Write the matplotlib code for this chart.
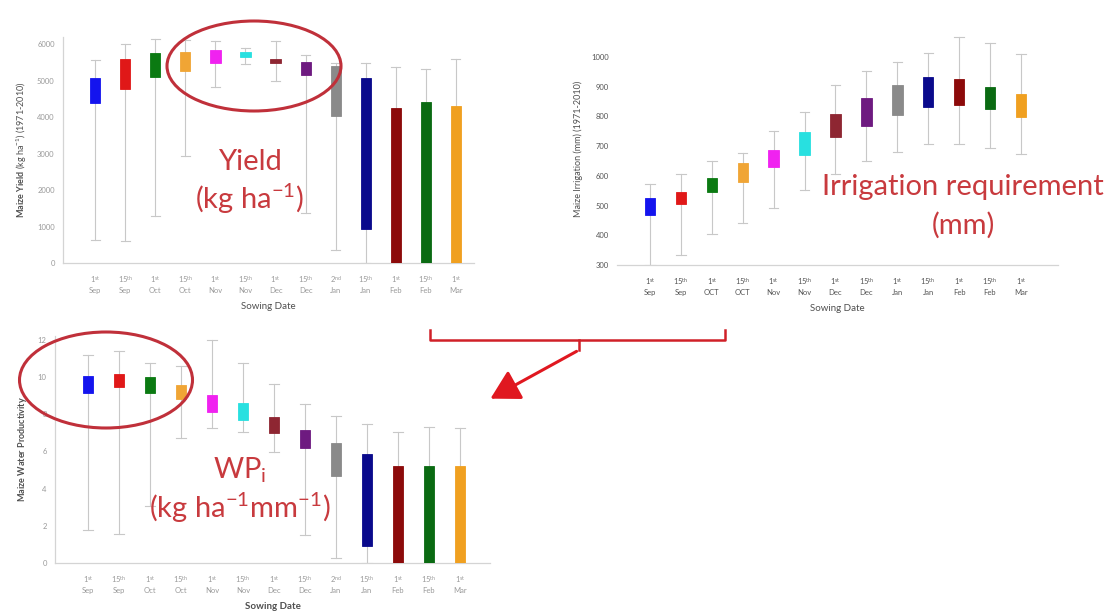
import matplotlib
matplotlib.use("Agg")
import matplotlib.pyplot as plt
from matplotlib.patches import Ellipse, FancyArrowPatch
from matplotlib.lines import Line2D

plt.rcParams['font.family'] = ['Lato', 'DejaVu Sans']
plt.rcParams['mathtext.fontset'] = 'custom'
plt.rcParams['mathtext.rm'] = 'Lato'
plt.rcParams['mathtext.it'] = 'Lato:italic'
plt.rcParams['mathtext.bf'] = 'Lato:bold'

# ---------------- data ----------------
box_colors = ['#1414EE', '#E01818', '#0B7A12', '#F0A535', '#F022F0', '#28E0E0',
              '#8E2632', '#6E1A80', '#8A8A8A', '#0A0A8C', '#8C0A0A', '#0A6A12', '#F0A020']

yield_labels = [r"1$^{\rm st}$" + "\nSep", r"15$^{\rm th}$" + "\nSep", r"1$^{\rm st}$" + "\nOct",
                r"15$^{\rm th}$" + "\nOct", r"1$^{\rm st}$" + "\nNov", r"15$^{\rm th}$" + "\nNov",
                r"1$^{\rm st}$" + "\nDec", r"15$^{\rm th}$" + "\nDec", r"2$^{\rm nd}$" + "\nJan",
                r"15$^{\rm th}$" + "\nJan", r"1$^{\rm st}$" + "\nFeb", r"15$^{\rm th}$" + "\nFeb",
                r"1$^{\rm st}$" + "\nMar"]
irr_labels = [r"1$^{\rm st}$" + "\nSep", r"15$^{\rm th}$" + "\nSep", r"1$^{\rm st}$" + "\nOCT",
              r"15$^{\rm th}$" + "\nOCT", r"1$^{\rm st}$" + "\nNov", r"15$^{\rm th}$" + "\nNov",
              r"1$^{\rm st}$" + "\nDec", r"15$^{\rm th}$" + "\nDec", r"1$^{\rm st}$" + "\nJan",
              r"15$^{\rm th}$" + "\nJan", r"1$^{\rm st}$" + "\nFeb", r"15$^{\rm th}$" + "\nFeb",
              r"1$^{\rm st}$" + "\nMar"]
wp_labels = yield_labels

# Yield (kg/ha)
yield_lo = [620, 600, 1280, 2930, 4840, 5450, 5000, 1370, 360, 0, 0, 0, 0]
yield_q1 = [4400, 4770, 5110, 5270, 5480, 5640, 5480, 5160, 4020, 930, 0, 0, 0]
yield_q3 = [5080, 5590, 5750, 5780, 5840, 5780, 5610, 5520, 5410, 5070, 4250, 4410, 4310]
yield_hi = [5570, 6010, 6140, 6120, 6090, 5890, 6100, 5700, 5500, 5500, 5390, 5320, 5600]

# Irrigation (mm)
irr_lo = [300, 334, 403, 442, 493, 552, 605, 649, 681, 706, 706, 694, 672]
irr_q1 = [468, 505, 546, 580, 628, 670, 729, 767, 804, 830, 838, 823, 796]
irr_q3 = [524, 546, 591, 642, 686, 748, 807, 860, 905, 933, 927, 897, 875]
irr_hi = [572, 605, 649, 677, 750, 815, 905, 953, 981, 1014, 1065, 1045, 1008]

# Water productivity (kg/ha/mm)
wp_lo = [1.75, 1.57, 3.07, 6.7, 7.27, 7.05, 5.95, 1.52, 0.27, 0.0, 0.0, 0.0, 0.0]
wp_q1 = [9.14, 9.46, 9.14, 8.84, 8.13, 7.68, 6.96, 6.2, 4.7, 0.9, 0.0, 0.0, 0.0]
wp_q3 = [10.05, 10.18, 10.0, 9.55, 9.05, 8.6, 7.82, 7.14, 6.43, 5.86, 5.23, 5.23, 5.23]
wp_hi = [11.16, 11.4, 10.75, 10.6, 12.0, 10.77, 9.64, 8.57, 7.9, 7.46, 7.05, 7.32, 7.27]

W, H = 1110, 616
fig = plt.figure(figsize=(W / 100, H / 100), dpi=100)
fig.patch.set_facecolor('white')


def rect(l, t, r, b):
    return [l / W, 1 - b / H, (r - l) / W, (b - t) / H]


def fxy(x, y):
    return (x / W, 1 - y / H)


GRAY = '#C8C8C8'


def boxpanel(ax, lo, q1, q3, hi, labels, xlim, ylim, yticks, ylabel, tickcolor):
    stats = []
    for a, b, c, d in zip(lo, q1, q3, hi):
        stats.append(dict(med=(b + c) / 2, q1=b, q3=c, whislo=a, whishi=d, fliers=[]))
    pos = list(range(len(stats)))
    bp = ax.bxp(stats, positions=pos, widths=0.34, patch_artist=True, showfliers=False,
                capwidths=0.30,
                whiskerprops=dict(color=GRAY, linewidth=0.8),
                capprops=dict(color=GRAY, linewidth=0.8),
                medianprops=dict(linewidth=0),
                boxprops=dict(linewidth=0.6))
    for patch, col in zip(bp['boxes'], box_colors):
        patch.set_facecolor(col)
        patch.set_edgecolor(col)
        patch.set_zorder(3)
    ax.set_xlim(*xlim)
    ax.set_ylim(*ylim)
    ax.set_yticks(yticks)
    ax.set_xticks(pos)
    ax.set_xticklabels(labels, fontsize=5.5, color=tickcolor, linespacing=1.3)
    ax.tick_params(axis='both', length=0, labelsize=5.5, labelcolor=tickcolor)
    ax.tick_params(axis='x', pad=8)
    ax.tick_params(axis='y', pad=6)
    for s in ['top', 'right']:
        ax.spines[s].set_visible(False)
    for s in ['left', 'bottom']:
        ax.spines[s].set_color('#D4D4D4')
        ax.spines[s].set_linewidth(0.9)
    ax.set_ylabel(ylabel, fontsize=6.5, color='#505050', labelpad=6)
    ax.set_facecolor('none')


# Yield panel
ax1 = fig.add_axes(rect(63, 37, 474, 263))
boxpanel(ax1, yield_lo, yield_q1, yield_q3, yield_hi, yield_labels,
         (-1.07, 12.6), (0, 6200), [0, 1000, 2000, 3000, 4000, 5000, 6000],
         r"$\bf{Maize\ Yield}$ (kg ha$^{-1}$) (1971-2010)", '#9A9A9A')
ax1.set_xlabel("Sowing Date", fontsize=7, color='#505050', labelpad=6)

# Irrigation panel
ax2 = fig.add_axes(rect(617, 33, 1058, 265))
boxpanel(ax2, irr_lo, irr_q1, irr_q3, irr_hi, irr_labels,
         (-1.07, 13.2), (300, 1080), [300, 400, 500, 600, 700, 800, 900, 1000],
         "Maize Irrigation (mm) (1971-2010)", '#555555')
ax2.spines['left'].set_visible(False)
ax2.set_xlabel("Sowing Date", fontsize=7, color='#505050', labelpad=6)

# WP panel
ax3 = fig.add_axes(rect(55, 336, 490, 563))
boxpanel(ax3, wp_lo, wp_q1, wp_q3, wp_hi, wp_labels,
         (-1.06, 12.97), (0, 12.2), [0, 2, 4, 6, 8, 10, 12],
         r"$\bf{Maize\ Water\ Productivity}$", '#9A9A9A')
ax3.set_xlabel("Sowing Date", fontsize=7, color='#505050', labelpad=6, fontweight='bold')

RED = '#C83A3E'
ELL = '#C0303A'

# annotations
fig.add_artist(Ellipse(fxy(254, 66), 174 / W, 90 / H, transform=fig.transFigure,
                       fill=False, edgecolor=ELL, linewidth=2.2, zorder=10))
fig.add_artist(Ellipse(fxy(106, 380), 173 / W, 96 / H, transform=fig.transFigure,
                       fill=False, edgecolor=ELL, linewidth=2.2, zorder=10))

fig.text(*fxy(250, 162), "Yield", fontsize=21, color=RED, ha='center', va='center')
fig.text(*fxy(250, 199), r"(kg ha$^{\mathrm{-1}}$)", fontsize=21, color=RED, ha='center', va='center')

fig.text(*fxy(963, 187), "Irrigation requirement", fontsize=21, color=RED, ha='center', va='center')
fig.text(*fxy(963, 225), "(mm)", fontsize=21, color=RED, ha='center', va='center')

fig.text(*fxy(240, 470), r"WP$_{\mathrm{i}}$", fontsize=21, color=RED, ha='center', va='center')
fig.text(*fxy(240, 508), r"(kg ha$^{\mathrm{-1}}$mm$^{\mathrm{-1}}$)", fontsize=21, color=RED,
         ha='center', va='center')

# bracket + arrow
BR = '#D02028'
xs = [430, 430, 725, 725]
ys = [330, 340, 340, 330]
fig.add_artist(Line2D([x / W for x in xs], [1 - y / H for y in ys], transform=fig.transFigure,
                      color=BR, linewidth=1.8))
fig.add_artist(Line2D([579 / W, 579 / W], [1 - 340 / H, 1 - 350 / H], transform=fig.transFigure,
                      color=BR, linewidth=1.8))
fig.add_artist(FancyArrowPatch(fxy(579, 350), fxy(488, 400), transform=fig.transFigure,
                               arrowstyle='-|>,head_length=0.8,head_width=0.45',
                               mutation_scale=22, color='#E01820', linewidth=2.2))

fig.savefig("out.png", dpi=100, facecolor='white')
